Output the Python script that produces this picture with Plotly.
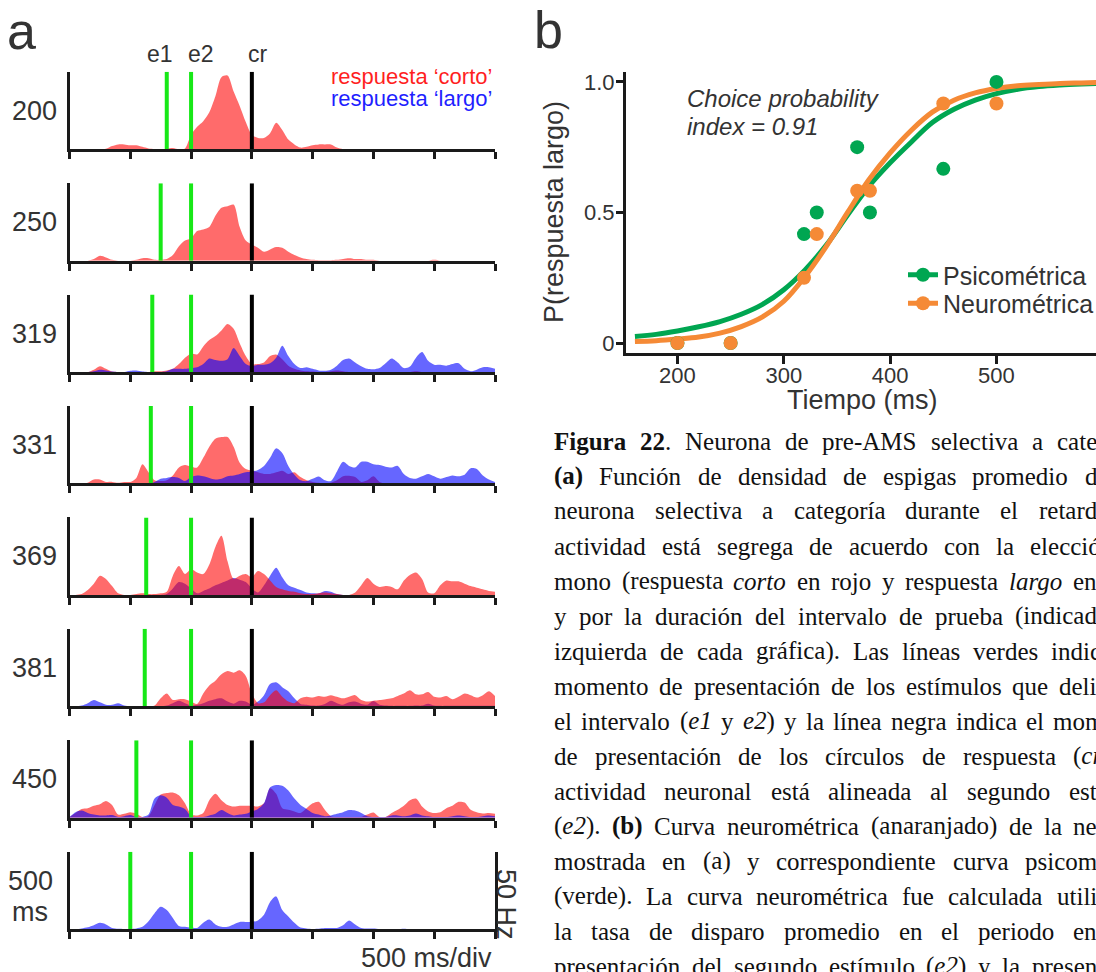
import plotly.graph_objects as go

W, H = 1096, 972

# ---------------- panel a data (spike density, Hz) ----------------
T_MS = list(range(-1000, 2501, 50))          # time relative to e2 (ms)
AXIS_TICKS_MS = list(range(-1000, 2501, 500))
INTERVALS_MS = [200, 250, 319, 331, 369, 381, 450, 500]
ROW_LABELS = ["200", "250", "319", "331", "369", "381", "450", "500"]
E2_MS = 0
CR_MS = 500

RED_200 = [0, 0, 0, 0, 0, 0, 0.3, 2, 3, 3,
           2.5, 2.5, 1.5, 0.5, 0.2, 0, 0.3, 0.8, 0, 0.5,
           9, 14, 17.5, 23, 33, 45, 46, 36, 27, 17,
           9, 7, 7, 10, 16.5, 12, 6, 3, 1, 1.5,
           2.5, 3, 3, 3, 1, 0, 0, 0, 0, 0,
           0, 0, 0, 0, 0, 0, 0, 0, 0, 0,
           0, 0, 0, 0, 0, 0, 0, 0, 0, 0, 0]
RED_250 = [0, 0, 0, 0, 1, 3, 2, 0.5, 0, 0,
           0, 0.5, 1.5, 1.5, 0.5, 0.5, 1, 3.5, 9, 12.5,
           14, 18.5, 19.5, 21, 28, 33, 34, 35, 21, 12.5,
           10, 8, 5.5, 7, 8.5, 8, 5.5, 3.5, 2, 1,
           0.5, 0.3, 0.3, 0.3, 0.5, 1, 1.5, 1, 1, 0.5,
           0.5, 0, 0, 0, 0, 0, 0, 0, 0, 0,
           0.5, 0, 0, 0, 0, 0, 0, 0, 0, 0, 0]
RED_319 = [0, 0, 0, 0, 1.5, 3.7, 2, 0.3, 0, 0,
           0, 0, 0, 0, 0.5, 0.5, 1, 2, 5, 9,
           11.5, 11, 16, 20, 22.5, 26, 30, 27, 18, 10,
           5, 5, 6, 10, 11, 8, 4, 2, 1, 0.5,
           0.3, 0, 0, 0.5, 1, 0.5, 0, 0, 0, 0,
           0, 0, 0, 0, 0, 0, 0, 0.5, 0, 0,
           0, 0, 0, 0, 0, 0, 0, 0, 0, 0, 0]
BLUE_319 = [0, 0, 0, 0, 0.5, 1.5, 1, 0.3, 0, 0,
            0.8, 1, 0.3, 0, 0, 0, 0.5, 2, 2, 2,
            2.5, 3, 5, 8.5, 7.5, 7, 8, 15, 10, 5,
            3.7, 4.5, 4.6, 5.5, 9, 16.5, 10, 5, 2.5, 3,
            2, 1, 0.8, 1.5, 4, 7.5, 8.5, 6, 3.7, 2,
            1.7, 2.5, 5.5, 8.5, 6, 2.5, 3.5, 9, 12.5, 7,
            4.5, 4.5, 4, 5, 5.5, 2, 0.5, 1.5, 3, 3, 2]
RED_331 = [0, 0, 0, 0.5, 2.5, 2.5, 1, 1, 0.5, 1,
           1, 3.5, 12, 7, 2, 1.5, 2, 5, 10, 11.5,
           10.5, 10, 16, 23, 28, 29, 29, 23, 13, 9,
           8, 7, 6, 6, 7, 8, 6, 7, 4, 2,
           1, 0.5, 0, 0.5, 2, 4.5, 4.8, 4, 1, 2,
           4.5, 1, 0, 0, 0, 0, 0, 0, 0, 0,
           0, 0, 0, 0, 0, 0, 0, 0, 0, 0, 0]
BLUE_331 = [0, 0, 0, 0, 0, 0, 0, 0, 0, 0,
            0, 0, 0, 0, 1, 3, 3.5, 4, 3.5, 1.5,
            4, 5, 4.5, 3.5, 2.5, 3, 4.5, 5, 6, 7,
            7.5, 8.5, 11, 16, 22, 19, 11, 5.5, 2, 1.5,
            3, 4.4, 2, 1.5, 7.5, 13.5, 11, 10, 13.5, 13.5,
            12, 11.5, 10.5, 10, 11, 6, 3.5, 3, 4.5, 6,
            4.5, 3, 4, 5, 4.5, 5.5, 9.5, 9, 5, 2.5, 1]
RED_369 = [0, 0, 0.5, 3, 7, 12, 10, 5.5, 1, 0,
           0, 0.5, 1, 0.5, 0.5, 1, 2, 12, 18, 13,
           16, 14, 13, 19, 30, 37, 21, 10, 12, 13,
           11, 15, 13, 9, 5, 3.5, 2.5, 2, 1, 0.5,
           0.5, 1, 1.5, 1, 0.5, 0, 0, 1.5, 6, 10.5,
           7, 5, 5.5, 5, 3.5, 9, 12.5, 14, 10, 1.5,
           1, 6, 9, 8.5, 8.5, 7, 5.5, 4.5, 3.5, 2.5, 2]
BLUE_369 = [0, 0, 0, 0, 0, 0, 0, 0, 0, 0,
            0, 0, 0, 0, 0, 0, 0.5, 4, 8, 7,
            4, 1, 2.5, 4, 6, 7.5, 9, 10.5, 9.5, 8,
            4, 1.5, 6, 12, 17, 11, 6, 4.5, 3, 1.5,
            1, 1, 2.5, 2, 0.5, 0, 0, 0, 0, 0,
            0, 0, 0, 0, 0, 0, 0, 0, 0, 0,
            0, 0, 0, 0, 0, 0, 0, 0, 0, 0, 0]
RED_381 = [0, 0, 0, 0, 0, 0, 0, 0, 0, 0,
           0, 0, 0, 0, 0.5, 5, 8, 4, 4.5, 4.5,
           3, 1.5, 8, 13, 16, 20, 22, 21, 22.5, 19,
           8, 2, 2.5, 7, 10, 6, 3, 2, 5, 6,
           5.5, 6.5, 6, 7, 6, 5, 6, 7, 4, 3,
           3.5, 4, 4.5, 5, 6.5, 8, 10, 7.5, 7.5, 9,
           6, 5.5, 6.5, 4.5, 6, 8, 7, 5.5, 7, 9.5, 6.5]
BLUE_381 = [0, 0, 0.5, 2, 4, 2.5, 1, 1, 2, 0.5,
            0, 0, 0, 0, 0, 0, 0.5, 2, 3.5, 2,
            0.5, 1, 2, 3.5, 4.5, 5, 3, 1.7, 3.5, 3,
            1, 3, 7, 14, 15, 12, 9.5, 5, 1.5, 1,
            0.5, 0.5, 1.5, 3.5, 2, 1, 2.5, 3, 1.5, 1,
            3.3, 1, 0.5, 0.3, 0.3, 0.3, 0.3, 0.5, 0.5, 1.7,
            0.5, 0.3, 0.3, 0.3, 0.3, 0.3, 0.3, 0.3, 0.3, 0.3, 0.3]
RED_450 = [0.5, 3, 5.5, 6, 7.5, 8.5, 10.5, 8, 2, 2.5,
           3.5, 2.5, 0.5, 1, 8, 14.5, 15.5, 15.8, 14, 9,
           2, 1.5, 3, 11, 15, 11, 8, 7, 7.5, 7.5,
           7.5, 7, 9, 18.5, 15, 6, 5, 4, 3, 6,
           9, 10, 5, 1, 0.5, 0.5, 0.5, 0.5, 0.5, 2,
           3.3, 0.5, 0.5, 3, 5, 7.5, 11, 12, 7, 4,
           3, 3.5, 6, 7.5, 10, 9.5, 5, 3.5, 2.7, 3, 2.5]
BLUE_450 = [0.5, 3.5, 4.5, 3, 2, 1.5, 1.5, 1.7, 0.5, 1,
            1.7, 0.5, 0.5, 2, 12, 14, 12.5, 8, 7, 5.5,
            1, 0.5, 0.5, 1.5, 2.5, 4.8, 3, 1.5, 2, 2.5,
            4, 5.5, 9, 19, 20.5, 20, 17, 12, 8, 5.5,
            3, 2, 1, 1.5, 2.5, 3.5, 4.8, 4.5, 3, 1,
            0.5, 0.5, 0.5, 1.5, 1.5, 1, 1.5, 2.7, 1.5, 1,
            0.5, 0.5, 0.5, 1, 1.5, 1, 0.5, 0.5, 1, 1.5, 1]
BLUE_500 = [0, 0, 0.5, 1.2, 2.5, 4, 3, 0.8, 0.3, 0.2,
            0.2, 0.5, 1.5, 5, 10, 14, 12, 7, 2, 1.5,
            1, 0.8, 4, 6, 3, 1.5, 1.5, 3, 4.5, 4.5,
            4.6, 5.5, 9, 17, 20.5, 12, 8, 4, 1, 0.5,
            0.2, 0.3, 0.7, 0.8, 0.8, 2.5, 5.5, 3, 0.8, 0.5,
            0.4, 0.1, 0, 0, 0, 0.3, 0, 0, 0, 0,
            0, 0, 0, 0, 0, 0, 0, 0, 0, 0, 0]

RED_ROWS = [RED_200, RED_250, RED_319, RED_331, RED_369, RED_381, RED_450, None]
BLUE_ROWS = [None, None, BLUE_319, BLUE_331, BLUE_369, BLUE_381, BLUE_450, BLUE_500]
RED_ON_TOP = [False, False, False, False, True, True, False, False]

# ---------------- panel b data ----------------
DURATIONS_MS = [200, 250, 319, 331, 369, 381, 450, 500]
P_LARGO_PSICO = [0, 0, 0.417, 0.5, 0.75, 0.5, 0.667, 1.0]
P_LARGO_NEURO = [0, 0, 0.25, 0.417, 0.583, 0.583, 0.917, 0.917]
FIT_T_MS = list(range(160, 601, 20))
FIT_PSICO = [0.025, 0.033, 0.046, 0.062, 0.082, 0.11, 0.148, 0.204, 0.28, 0.375,
             0.49, 0.6, 0.69, 0.77, 0.845, 0.895, 0.93, 0.955, 0.972, 0.982,
             0.988, 0.992, 0.995]
FIT_NEURO = [0.006, 0.009, 0.015, 0.023, 0.038, 0.063, 0.1, 0.16, 0.255, 0.37,
             0.5, 0.625, 0.728, 0.815, 0.885, 0.93, 0.958, 0.975, 0.985, 0.99,
             0.994, 0.996, 0.998]
B_XTICKS = [200, 300, 400, 500]
B_YTICKS = [0, 0.5, 1.0]
B_YTICKTEXT = ["0", "0.5", "1.0"]

# ---------------- caption text ----------------
CAPTION_LINES = [
    "<b>Figura</b> <b>22</b>. Neurona de pre-AMS selectiva a categoría.",
    "<b>(a)</b> Función de densidad de espigas promedio de",
    "neurona selectiva a categoría durante el retardo.",
    "actividad está segrega de acuerdo con la elección",
    "mono (respuesta <i>corto</i> en rojo y respuesta <i>largo</i> en",
    "y por la duración del intervalo de prueba (indicado",
    "izquierda de cada gráfica). Las líneas verdes indican",
    "momento de presentación de los estímulos que delimitan",
    "el intervalo (<i>e1</i> y <i>e2</i>) y la línea negra indica el momento",
    "de presentación de los círculos de respuesta (<i>cr</i>).",
    "actividad neuronal está alineada al segundo estímulo",
    "(<i>e2</i>). <b>(b)</b> Curva neurométrica (anaranjado) de la neurona",
    "mostrada en (a) y correspondiente curva psicométrica",
    "(verde). La curva neurométrica fue calculada utilizando",
    "la tasa de disparo promedio en el periodo entre",
    "presentación del segundo estímulo (<i>e2</i>) y la presentación",
]
# visible characters of the last word at the right edge of the page
CAPTION_EDGE_CHARS = [4, 1, 6, 6.7, 2, 8, 4.6, 4, 2.6, 2.5, 3, 2, 6, 5, 2, 6]

# ---------------- styles ----------------
SANS = "Liberation Sans"
SERIF = "Liberation Serif"
TXT = "#333333"
AXC = "#1a1a1a"
RED_FILL = "rgba(255,0,0,0.58)"
BLUE_FILL = "rgba(0,0,255,0.6)"
STIM_GREEN = "#17E817"
PSI_GREEN = "#00A651"
NEU_ORANGE = "#F58A36"

def px_x(p):
    return p / W

def px_y(p):
    return 1 - p / H

fig = go.Figure()
layout = dict(width=W, height=H, margin=dict(l=0, r=0, t=0, b=0, autoexpand=False),
              paper_bgcolor="white", plot_bgcolor="rgba(0,0,0,0)", showlegend=True,
              hovermode=False)
annotations = []

def add_text(text, x, y, size, color=TXT, xanchor="center", yanchor="middle",
             family=SANS, angle=0):
    annotations.append(dict(text=text, x=px_x(x), y=px_y(y), xref="paper", yref="paper",
                            showarrow=False, xanchor=xanchor, yanchor=yanchor,
                            textangle=angle, borderpad=0,
                            font=dict(family=family, size=size, color=color)))

# ---------------- panel a ----------------
ROW0_BASE = 150.7
ROW_PITCH = 111.43
A_LEFT, A_RIGHT = 69.5, 495
YMAX_HZ = 48.4

for r in range(8):
    n = r + 1
    xk = "xaxis" if n == 1 else f"xaxis{n}"
    yk = "yaxis" if n == 1 else f"yaxis{n}"
    xr = "x" if n == 1 else f"x{n}"
    yr = "y" if n == 1 else f"y{n}"
    base = ROW0_BASE + ROW_PITCH * r
    bottom, top = base - 1.5, base - 79
    layout[xk] = dict(domain=[px_x(A_LEFT), px_x(A_RIGHT)], range=[T_MS[0], T_MS[-1]],
                      anchor=yr, showline=True, linecolor=AXC, linewidth=3,
                      ticks="outside", ticklen=7, tickwidth=3, tickcolor=AXC,
                      tickvals=AXIS_TICKS_MS, showticklabels=False, showgrid=False,
                      zeroline=False, fixedrange=True)
    layout[yk] = dict(domain=[px_y(bottom), px_y(top)], range=[0, YMAX_HZ], anchor=xr,
                      showline=True, linecolor=AXC, linewidth=3, ticks="",
                      showticklabels=False, showgrid=False, zeroline=False,
                      fixedrange=True, mirror=(r == 7))
    series = []
    if RED_ROWS[r] is not None:
        series.append(("red", RED_ROWS[r], RED_FILL))
    if BLUE_ROWS[r] is not None:
        series.append(("blue", BLUE_ROWS[r], BLUE_FILL))
    if RED_ON_TOP[r]:
        series.sort(key=lambda s: 0 if s[0] == "blue" else 1)
    for name, vals, col in series:
        fig.add_trace(go.Scatter(x=T_MS, y=vals, mode="lines", fill="tozeroy",
                                 fillcolor=col, line=dict(width=0, color=col, shape="spline",
                                                          smoothing=0.8),
                                 xaxis=xr, yaxis=yr, showlegend=False, hoverinfo="skip"))
    e1 = -INTERVALS_MS[r]
    fig.add_trace(go.Scatter(x=[e1, e1, None, E2_MS, E2_MS], y=[0, YMAX_HZ, None, 0, YMAX_HZ],
                             mode="lines", line=dict(color=STIM_GREEN, width=4),
                             xaxis=xr, yaxis=yr, showlegend=False, hoverinfo="skip"))
    fig.add_trace(go.Scatter(x=[CR_MS, CR_MS], y=[0, YMAX_HZ], mode="lines",
                             line=dict(color="#000000", width=4),
                             xaxis=xr, yaxis=yr, showlegend=False, hoverinfo="skip"))
    if r < 7:
        add_text(ROW_LABELS[r], 34, base - 40, 27)
    else:
        add_text(ROW_LABELS[r], 30, base - 50, 27)
        add_text("ms", 30, base - 19, 27)

add_text("a", 21, 31, 52)
add_text("e1", 160, 54, 23)
add_text("e2", 200.5, 54, 23)
add_text("cr", 257.5, 54, 23)
add_text("respuesta \u2018corto\u2019", 493, 76.5, 22, color="#FF1F1F", xanchor="right")
add_text("respuesta \u2018largo\u2019", 493, 98, 22, color="#1F1FFF", xanchor="right")
add_text("500 ms/div", 493, 958, 27, xanchor="right")
add_text("50 Hz", 506, 904, 27, angle=90)

# ---------------- panel b ----------------
B_LEFT, B_TOP, B_BOTTOM = 626, 71.7, 352.5
layout["xaxis9"] = dict(domain=[px_x(B_LEFT), 1], range=[151.6, 593.6], anchor="y9",
                        showline=True, linecolor=AXC, linewidth=3, ticks="outside",
                        ticklen=8, tickwidth=3, tickcolor=AXC, tickvals=B_XTICKS,
                        ticklabelstandoff=-7,
                        tickfont=dict(family=SANS, size=22, color=TXT), showgrid=False,
                        zeroline=False, fixedrange=True)
layout["yaxis9"] = dict(domain=[px_y(B_BOTTOM), px_y(B_TOP)], range=[-0.0364, 1.039],
                        anchor="x9", showline=True, linecolor=AXC, linewidth=3,
                        ticks="outside", ticklen=7, tickwidth=3, tickcolor=AXC,
                        tickvals=B_YTICKS, ticktext=B_YTICKTEXT, ticklabelstandoff=-3,
                        tickfont=dict(family=SANS, size=22, color=TXT), showgrid=False,
                        zeroline=False, fixedrange=True)

fig.add_trace(go.Scatter(x=FIT_T_MS, y=FIT_PSICO, mode="lines",
                         line=dict(color=PSI_GREEN, width=5, shape="spline"),
                         xaxis="x9", yaxis="y9", showlegend=False, hoverinfo="skip"))
fig.add_trace(go.Scatter(x=FIT_T_MS, y=FIT_NEURO, mode="lines",
                         line=dict(color=NEU_ORANGE, width=5, shape="spline"),
                         xaxis="x9", yaxis="y9", showlegend=False, hoverinfo="skip"))
fig.add_trace(go.Scatter(x=DURATIONS_MS, y=P_LARGO_PSICO, mode="markers",
                         marker=dict(color=PSI_GREEN, size=14),
                         xaxis="x9", yaxis="y9", showlegend=False, hoverinfo="skip"))
fig.add_trace(go.Scatter(x=DURATIONS_MS, y=P_LARGO_NEURO, mode="markers",
                         marker=dict(color=NEU_ORANGE, size=14),
                         xaxis="x9", yaxis="y9", showlegend=False, hoverinfo="skip"))
# legend entries
fig.add_trace(go.Scatter(x=[None], y=[None], mode="lines+markers", name="Psicométrica",
                         line=dict(color=PSI_GREEN, width=5), marker=dict(color=PSI_GREEN, size=14),
                         xaxis="x9", yaxis="y9", legend="legend"))
fig.add_trace(go.Scatter(x=[None], y=[None], mode="lines+markers", name="Neurométrica",
                         line=dict(color=NEU_ORANGE, width=5), marker=dict(color=NEU_ORANGE, size=14),
                         xaxis="x9", yaxis="y9", legend="legend2"))
leg_common = dict(xref="paper", yref="paper", xanchor="left", yanchor="middle",
                  bgcolor="rgba(0,0,0,0)", borderwidth=0, itemwidth=30,
                  font=dict(family=SANS, size=25, color=TXT))
layout["legend"] = dict(x=px_x(903), y=px_y(275), **leg_common)
layout["legend2"] = dict(x=px_x(903), y=px_y(303.5), **leg_common)

add_text("b", 548, 30, 52)
add_text("<i>Choice probability</i>", 686, 98.5, 24, xanchor="left")
add_text("<i>index = 0.91</i>", 686, 126.5, 24, xanchor="left")
add_text("Tiempo (ms)", 862, 400, 27)
add_text("P(respuesta largo)", 554, 212, 27, angle=-90)

# ---------------- caption (justified, cut at page edge) ----------------
ROMAN_W = {' ': 250, '(': 333, ')': 333, '.': 250, ',': 250, '-': 333, '1': 500, '2': 500,
           'A': 722, 'C': 667, 'F': 556, 'L': 611, 'M': 889, 'N': 722, 'S': 556,
           'a': 444, 'b': 500, 'c': 444, 'd': 500, 'e': 444, 'f': 333, 'g': 500, 'h': 500,
           'i': 278, 'j': 278, 'k': 500, 'l': 278, 'm': 778, 'n': 500, 'o': 500, 'p': 500,
           'q': 500, 'r': 333, 's': 389, 't': 278, 'u': 500, 'v': 500, 'w': 722, 'x': 500,
           'y': 500, 'z': 444, 'á': 444, 'é': 444, 'í': 278, 'ó': 500, 'ú': 500}
BOLD_W = {'F': 611, 'i': 278, 'g': 500, 'u': 556, 'r': 444, 'a': 500, '2': 500,
          '(': 333, ')': 333, 'b': 556}
ITALIC_W = {'c': 444, 'o': 500, 'r': 389, 't': 278, 'l': 278, 'a': 500, 'g': 500,
            'e': 444, '1': 500, '2': 500}

def parse_chars(tok):
    out, b, it, i = [], False, False, 0
    while i < len(tok):
        for tag, attr, val in (("<b>", "b", True), ("</b>", "b", False),
                               ("<i>", "i", True), ("</i>", "i", False)):
            if tok.startswith(tag, i):
                if attr == "b":
                    b = val
                else:
                    it = val
                i += len(tag)
                break
        else:
            out.append((tok[i], b, it))
            i += 1
    return out

def char_w(c, b, it):
    tab = BOLD_W if b else (ITALIC_W if it else ROMAN_W)
    return tab.get(c, ROMAN_W.get(c, 500))

def tok_width(tok, size, nchars=None):
    chars = parse_chars(tok)
    if nchars is None:
        return sum(char_w(*c) for c in chars) * size / 1000.0
    k = int(nchars)
    frac = nchars - k
    w = sum(char_w(*c) for c in chars[:k])
    if frac > 0 and k < len(chars):
        w += frac * char_w(*chars[k])
    return w * size / 1000.0

CAP_X0, CAP_Y0, CAP_DY, CAP_SIZE, EDGE_X = 553, 441, 35, 25, 1096
for li, line in enumerate(CAPTION_LINES):
    toks = line.split(" ")
    widths = [tok_width(t, CAP_SIZE) for t in toks]
    last_start = EDGE_X - tok_width(toks[-1], CAP_SIZE, CAPTION_EDGE_CHARS[li])
    gap = (last_start - CAP_X0 - sum(widths[:-1])) / (len(toks) - 1)
    x = CAP_X0
    y = CAP_Y0 + CAP_DY * li
    for t, w in zip(toks, widths):
        add_text(t, x, y, CAP_SIZE, color="#111111", xanchor="left", family=SERIF)
        x += w + gap

layout["annotations"] = annotations
fig.update_layout(**layout)
fig.write_html("out.html")
